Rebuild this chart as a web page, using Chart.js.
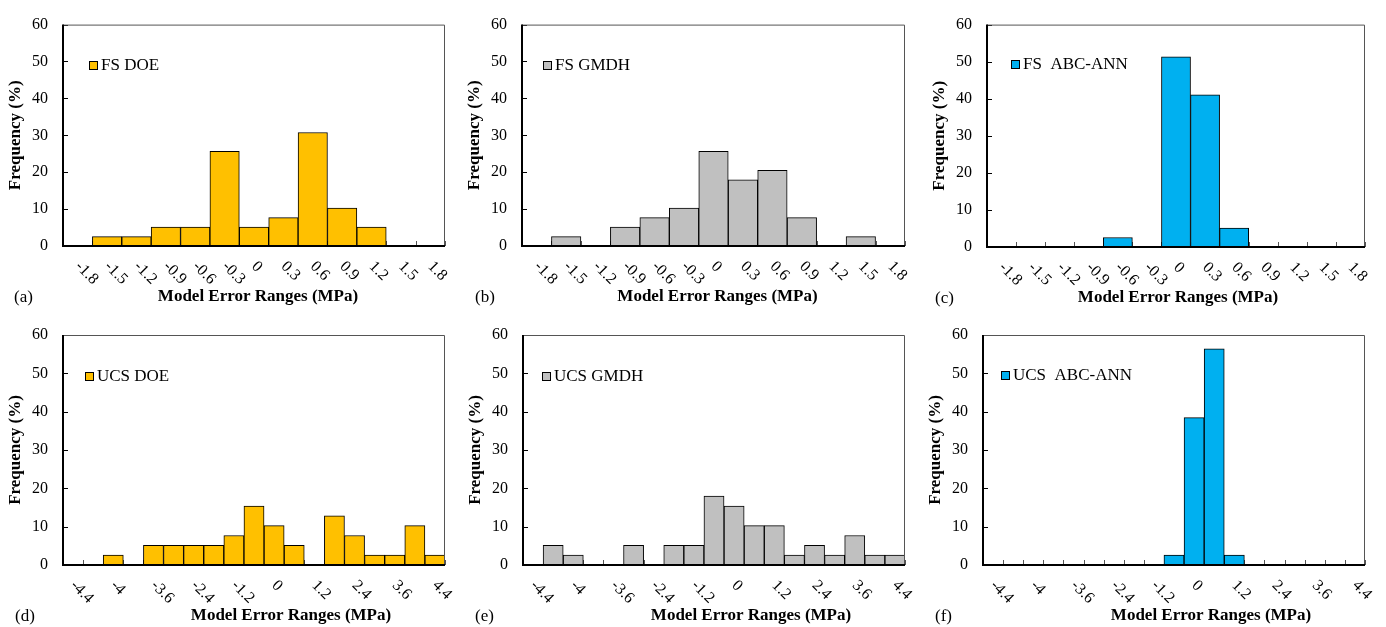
<!DOCTYPE html>
<html>
<head>
<meta charset="utf-8">
<script src="https://cdn.jsdelivr.net/npm/chart.js@4.4.0/dist/chart.umd.min.js"></script>
<style>
  body { margin: 0; background: #fff; }
  #wrap { position: relative; width: 1386px; height: 627px; }
  #wrap canvas { position: absolute; left: 0; top: 0; }
</style>
</head>
<body>
<div id="wrap">
  <canvas id="pa" width="1386" height="627"></canvas>
  <canvas id="pb" width="1386" height="627"></canvas>
  <canvas id="pc" width="1386" height="627"></canvas>
  <canvas id="pd" width="1386" height="627"></canvas>
  <canvas id="pe" width="1386" height="627"></canvas>
  <canvas id="pf" width="1386" height="627"></canvas>
</div>
<script>
// error ranges (MPa), one bar per range
const fsLabels = ['-1.8', '-1.5', '-1.2', '-0.9', '-0.6', '-0.3', '0', '0.3', '0.6', '0.9', '1.2', '1.5', '1.8'];
const ucsLabels = ['-4.4', '', '-4', '', '-3.6', '', '-2.4', '', '-1.2', '', '0', '', '1.2', '', '2.4', '', '3.6', '', '4.4'];

// frequency (%)
const fsDoe   = [0, 2.56, 2.56, 5.13, 5.13, 25.64, 5.13, 7.69, 30.77, 10.26, 5.13, 0, 0];
const fsGmdh  = [0, 2.56, 0, 5.13, 7.69, 10.26, 25.64, 17.95, 20.51, 7.69, 0, 2.56, 0];
const fsAbc   = [0, 0, 0, 0, 2.56, 0, 51.28, 41.03, 5.13, 0, 0, 0, 0];
const ucsDoe  = [0, 0, 2.56, 0, 5.13, 5.13, 5.13, 5.13, 7.69, 15.38, 10.26, 5.13, 0, 12.82, 7.69, 2.56, 2.56, 10.26, 2.56];
const ucsGmdh = [0, 5.13, 2.56, 0, 0, 5.13, 0, 5.13, 5.13, 17.95, 15.38, 10.26, 10.26, 2.56, 5.13, 2.56, 7.69, 2.56, 2.56];
const ucsAbc  = [0, 0, 0, 0, 0, 0, 0, 0, 0, 2.56, 38.46, 56.41, 2.56, 0, 0, 0, 0, 0, 0];

const yTicks = [0, 10, 20, 30, 40, 50, 60];

const W = 1386, H = 627;
const FONT = "'Liberation Serif', 'Times New Roman', serif";
const orange = '#FFC000', grey = '#C0C0C0', blue = '#00B0F0';

Chart.defaults.font.family = FONT;
Chart.defaults.color = '#000';

// box = [left, top, right, bottom] of the plot area
const panels = [
  {id: 'pa', labels: fsLabels, values: fsDoe, color: orange, name: 'FS DOE', tag: '(a)', box: [63, 17, 445, 246], legend: [89, 61], shift: 4, tagX: 14},
  {id: 'pb', labels: fsLabels, values: fsGmdh, color: grey, name: 'FS GMDH', tag: '(b)', box: [522, 17, 905, 246], legend: [543, 61], shift: 4, tagX: 475},
  {id: 'pc', labels: fsLabels, values: fsAbc, color: blue, name: 'FS  ABC-ANN', tag: '(c)', box: [987, 17, 1365, 247], legend: [1011, 60], shift: 2, tagX: 935},
  {id: 'pd', labels: ucsLabels, values: ucsDoe, color: orange, name: 'UCS DOE', tag: '(d)', box: [63, 335, 445, 565], legend: [85, 372], shift: 37, tagX: 15},
  {id: 'pe', labels: ucsLabels, values: ucsGmdh, color: grey, name: 'UCS GMDH', tag: '(e)', box: [523, 335, 905, 565], legend: [542, 372], shift: 37, tagX: 475},
  {id: 'pf', labels: ucsLabels, values: ucsAbc, color: blue, name: 'UCS  ABC-ANN', tag: '(f)', box: [983, 335, 1365, 565], legend: [1001, 371], shift: 37, tagX: 935}
];

function makeDecor(p) {
  return {
    id: 'decor',
    beforeDatasetsDraw(chart) {
      const {ctx, chartArea: a, scales: {x, y}} = chart;
      ctx.save();
      ctx.lineWidth = 1;
      ctx.strokeStyle = '#000';
      ctx.beginPath();
      yTicks.forEach(v => {
        const py = Math.round(y.getPixelForValue(v)) + 0.5;
        ctx.moveTo(a.left, py);
        ctx.lineTo(a.left + 5, py);
      });
      ctx.stroke();
      ctx.strokeStyle = '#555';
      ctx.beginPath();
      for (let k = 1; k <= p.labels.length; k++) {
        const px = Math.round(x.getPixelForValue(k - 0.5)) + 0.5;
        ctx.moveTo(px, a.bottom);
        ctx.lineTo(px, a.bottom - 5);
      }
      ctx.stroke();
      ctx.restore();
    },
    afterDatasetsDraw(chart) {
      const {ctx, chartArea: a} = chart;
      ctx.save();
      // plot frame
      ctx.strokeStyle = '#555';
      ctx.lineWidth = 1;
      ctx.beginPath();
      ctx.moveTo(a.left, a.top + 0.5);
      ctx.lineTo(a.right - 0.5, a.top + 0.5);
      ctx.lineTo(a.right - 0.5, a.bottom);
      ctx.stroke();
      // axes
      ctx.strokeStyle = '#000';
      ctx.lineWidth = 2;
      ctx.beginPath();
      ctx.moveTo(a.left, a.top);
      ctx.lineTo(a.left, a.bottom);
      ctx.lineTo(a.right, a.bottom);
      ctx.stroke();
      ctx.restore();
    },
    afterDraw(chart) {
      const {ctx, chartArea: a, scales: {x}} = chart;
      ctx.save();
      ctx.fillStyle = '#000';

      // rotated category labels
      ctx.font = '16px ' + FONT;
      ctx.textAlign = 'left';
      ctx.textBaseline = 'middle';
      p.labels.forEach((lab, i) => {
        if (!lab) return;
        ctx.save();
        ctx.translate(x.getPixelForValue(i), a.bottom + 18);
        ctx.rotate(Math.PI / 4);
        ctx.fillText(lab, 0, 0);
        ctx.restore();
      });

      // axis titles
      ctx.font = 'bold 17px ' + FONT;
      ctx.textAlign = 'center';
      ctx.fillText('Model Error Ranges (MPa)', (a.left + a.right) / 2 + p.shift, a.bottom + 51);
      ctx.save();
      ctx.translate(a.left - 47, (a.top + a.bottom) / 2);
      ctx.rotate(-Math.PI / 2);
      ctx.fillText('Frequency (%)', 0, 0);
      ctx.restore();

      // panel tag
      ctx.font = '17px ' + FONT;
      ctx.textAlign = 'left';
      ctx.fillText(p.tag, p.tagX, a.bottom + 52);

      // legend
      const [lx, ly] = p.legend;
      ctx.fillStyle = p.color;
      ctx.fillRect(lx + 0.5, ly + 0.5, 8, 8);
      ctx.strokeStyle = '#000';
      ctx.lineWidth = 1;
      ctx.strokeRect(lx + 0.5, ly + 0.5, 8, 8);
      ctx.fillStyle = '#000';
      ctx.fillText(p.name, lx + 12, ly + 4.5);
      ctx.restore();
    }
  };
}

panels.forEach(p => {
  const [L, T, R, B] = p.box;
  new Chart(document.getElementById(p.id), {
    type: 'bar',
    data: {
      labels: p.labels,
      datasets: [{
        data: p.values,
        backgroundColor: p.color,
        borderColor: '#000',
        borderWidth: 1,
        barPercentage: 1,
        categoryPercentage: 1
      }]
    },
    options: {
      responsive: false,
      animation: false,
      events: [],
      layout: {padding: {left: L - 40, top: T, right: W - R, bottom: H - B - 10}},
      plugins: {legend: {display: false}, tooltip: {enabled: false}},
      scales: {
        x: {
          ticks: {display: false},
          grid: {display: false, drawTicks: false},
          border: {display: false},
          afterFit(s) { s.height = 10; }
        },
        y: {
          min: 0,
          max: 60,
          ticks: {stepSize: 10, padding: 15, font: {size: 16}, color: '#000'},
          grid: {display: false, drawTicks: false},
          border: {display: false},
          afterFit(s) { s.width = 40; }
        }
      }
    },
    plugins: [makeDecor(p)]
  });
});
</script>
</body>
</html>
